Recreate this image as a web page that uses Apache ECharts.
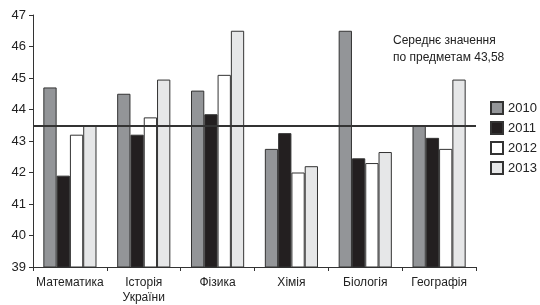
<!DOCTYPE html>
<html>
<head>
<meta charset="utf-8">
<script src="https://cdn.jsdelivr.net/npm/echarts@6/dist/echarts.min.js"></script>
<style>
  html, body { margin: 0; padding: 0; background: #fff; }
  #main { width: 540px; height: 305px; }
</style>
</head>
<body>
<div id="main"></div>
<script>
  // предмети та роки
  var subjects = ['Математика', 'Історія\nУкраїни', 'Фізика', 'Хімія', 'Біологія', 'Географія'];
  var years = ['2010', '2011', '2012', '2013'];

  // значення за роками (читано з малюнка)
  var v2010 = [44.7, 44.5, 44.6, 42.75, 46.5, 43.5];
  var v2011 = [41.9, 43.2, 43.85, 43.25, 42.45, 43.1];
  var v2012 = [43.2, 43.75, 45.1, 42.0, 42.3, 42.75];
  var v2013 = [43.5, 44.95, 46.5, 42.2, 42.65, 44.95];

  // середнє значення
  var avgLine = 43.5;
  var avgText = 'Середнє значення\nпо предметам 43,58';

  var yTicks = { min: 39, max: 47, interval: 1 };

  var colors = ['#939598', '#231f20', '#ffffff', '#e6e7e8'];
  var values = [v2010, v2011, v2012, v2013];

  var chart = echarts.init(document.getElementById('main'));

  var series = years.map(function (y, i) {
    var s = {
      name: y,
      type: 'bar',
      data: values[i],
      barGap: '0%',
      barCategoryGap: '28%',
      itemStyle: { color: colors[i], borderColor: '#333', borderWidth: 1 }
    };
    if (i === 0) {
      s.markLine = {
        silent: true,
        symbol: 'none',
        label: { show: false },
        lineStyle: { color: '#333', width: 2, type: 'solid' },
        data: [{ yAxis: avgLine }]
      };
    }
    return s;
  });

  var option = {
    animation: false,
    textStyle: { fontFamily: 'Liberation Sans, Arial, sans-serif' },
    title: {
      text: avgText,
      left: 393,
      top: 32,
      padding: 0,
      textStyle: { fontSize: 12, fontWeight: 'normal', color: '#222', lineHeight: 17 }
    },
    legend: {
      data: years,
      orient: 'vertical',
      left: 490,
      top: 101,
      padding: 0,
      itemWidth: 12,
      itemHeight: 12,
      itemGap: 6,
      icon: 'rect',
      textStyle: { fontSize: 13, color: '#222' }
    },
    grid: { left: 33, right: 64, top: 15, bottom: 38 },
    xAxis: {
      type: 'category',
      data: subjects,
      axisLine: { lineStyle: { color: '#333', width: 1 } },
      axisTick: { show: true, length: 4, lineStyle: { color: '#333' } },
      axisLabel: { interval: 0, fontSize: 12, color: '#222', margin: 8, lineHeight: 15 }
    },
    yAxis: {
      type: 'value',
      min: yTicks.min,
      max: yTicks.max,
      interval: yTicks.interval,
      axisLine: { show: true, lineStyle: { color: '#333', width: 1 } },
      axisTick: { show: true, length: 4, lineStyle: { color: '#333' } },
      axisLabel: { fontSize: 13, color: '#222', margin: 7 },
      splitLine: { show: false }
    },
    series: series
  };

  chart.setOption(option);
</script>
</body>
</html>
